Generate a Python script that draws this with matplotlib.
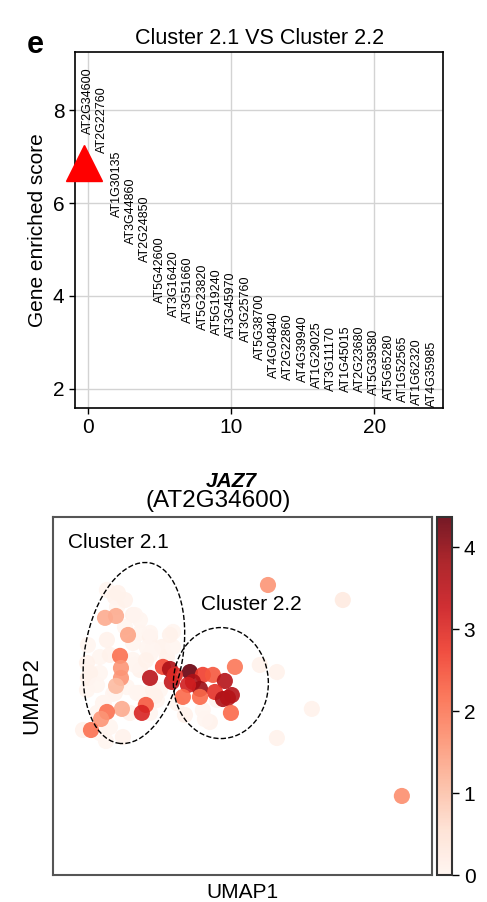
import matplotlib
matplotlib.use("Agg")
import matplotlib.pyplot as plt
import numpy as np
from matplotlib.patches import Ellipse

plt.rcParams['font.family'] = ['Liberation Sans', 'DejaVu Sans']

# ranked genes, cluster 2.1 vs cluster 2.2
genes = ["AT2G34600", "AT2G22760", "AT1G30135", "AT3G44860", "AT2G24850",
         "AT5G42600", "AT3G16420", "AT3G51660", "AT5G23820", "AT5G19240",
         "AT3G45970", "AT3G25760", "AT5G38700", "AT4G04840", "AT2G22860",
         "AT4G39940", "AT1G29025", "AT3G11170", "AT1G45015", "AT2G23680",
         "AT5G39580", "AT5G65280", "AT1G52565", "AT1G62320", "AT4G35985"]
scores = [7.48, 7.09, 5.69, 5.11, 4.74, 3.85, 3.55, 3.42, 3.27, 3.16,
          3.10, 3.01, 2.62, 2.23, 2.19, 2.15, 2.02, 1.95, 1.93, 1.93,
          1.87, 1.76, 1.72, 1.65, 1.61]
highlight_x = -0.25
highlight_y = 6.87

# UMAP cells: expression of JAZ7 (AT2G34600)
pale_x = [2.84, 3.26, 3.37, 4.21, 3.79, 4.58, 5.11, 6.32, 5.74, 4.95, 4.21, 2.84,
          2.47, 1.79, 2.47, 4.21, 4.58, 3.89, 4.58, 5.26, 5.47, 3.26, 2.63, 2.32,
          1.58, 2.47, 5.11, 4.05, 10.89, 11.79, 13.63, 11.79, 7.89, 8.26, 8.63,
          6.53, 6.0, 6.32, 3.0, 1.95, 1.79, 3.0, 5.11, 5.63, 3.79, 1.84, 4.58,
          6.95, 3.42, 4.32, 5.11, 6.16, 5.26, 4.32, 1.84, 2.32, 4.42, 5.37,
          3.16, 2.68, 3.68, 2.79, 8.0, 4.9, 3.6]
pale_y = [15.0, 14.63, 14.1, 13.68, 13.05, 12.74, 12.53, 12.79, 12.0, 11.95, 12.21,
          12.37, 11.47, 11.16, 10.63, 11.32, 10.79, 9.89, 9.58, 9.74, 9.21, 9.58,
          9.05, 8.53, 7.63, 7.47, 8.53, 8.53, 11.05, 10.68, 8.74, 7.21, 8.68, 8.05,
          9.21, 9.05, 11.47, 12.0, 7.79, 10.63, 9.74, 11.58, 11.58, 9.74, 14.47,
          12.1, 13.42, 8.42, 14.84, 13.68, 12.74, 12.63, 11.84, 11.05, 10.37,
          10.0, 9.58, 9.42, 9.53, 9.05, 7.26, 7.05, 8.2, 11.3, 10.2]
pale_val = [0.0, 0.1, 0.0, 0.1, 0.0, 0.0, 0.1, 0.0, 0.1, 0.0, 0.0, 0.1, 0.0, 0.1,
            0.0, 0.0, 0.1, 0.0, 0.0, 0.1, 0.0, 0.1, 0.0, 0.0, 0.1, 0.0, 0.0, 0.1,
            0.1, 0.1, 0.1, 0.1, 0.0, 0.1, 0.0, 0.0, 0.1, 0.0, 0.0, 0.1, 0.0, 0.1,
            0.0, 0.0, 0.1, 0.0, 0.0, 0.1, 0.1, 0.0, 0.0, 0.1, 0.0, 0.0, 0.1, 0.0,
            0.0, 0.1, 0.0, 0.0, 0.1, 0.0, 0.0, 0.1, 0.0]

expr_x = [11.32, 15.26, 2.74, 3.32, 3.95, 3.53, 3.58, 3.58, 3.32, 5.11, 5.79,
          6.16, 6.26, 7.21, 7.89, 8.42, 9.58, 9.05, 7.37, 7.74, 7.11, 8.53, 8.95,
          9.42, 9.21, 6.84, 7.74, 9.37, 6.42, 4.89, 4.68, 3.63, 2.84, 2.53, 2.0,
          18.37]
expr_y = [15.26, 14.47, 13.53, 13.63, 12.63, 11.53, 10.89, 10.37, 9.95, 10.37,
          10.95, 10.84, 10.16, 10.68, 10.53, 10.53, 10.95, 10.21, 10.16, 9.79,
          10.0, 9.63, 9.26, 9.47, 9.32, 9.37, 9.37, 8.53, 10.53, 8.95, 8.53, 8.74,
          8.58, 8.21, 7.63, 4.16]
expr_val = [1.6, 0.3, 1.3, 1.3, 1.4, 2.1, 1.6, 1.6, 1.1, 3.5, 2.6, 3.7, 3.4,
            4.35, 2.7, 2.4, 2.0, 3.6, 3.7, 3.9, 3.2, 2.9, 3.7, 3.6, 3.6, 2.2,
            2.2, 2.2, 3.0, 2.4, 3.1, 1.3, 2.1, 1.6, 2.1, 1.7]

vmax = 4.37

fig = plt.figure(figsize=(4.87, 9.02), dpi=100)

# ---- panel e, top: ranked genes
ax1 = fig.add_axes([0.154, 0.548, 0.756, 0.394])
for i, (g, s) in enumerate(zip(genes, scores)):
    ax1.text(i, s, g, rotation=90, va='bottom', ha='center', fontsize=9)
ax1.plot([highlight_x], [highlight_y], marker='^', color='red', markersize=26,
         linestyle='none', zorder=5, clip_on=False)
ax1.set_xlim(-0.9, 24.8)
ax1.set_ylim(1.59, 9.25)
ax1.set_xticks([0, 10, 20])
ax1.set_yticks([2, 4, 6, 8])
ax1.grid(True, color='#d3d3d3', linewidth=1)
ax1.set_axisbelow(True)
ax1.tick_params(labelsize=15, length=4, width=1)
ax1.set_ylabel("Gene enriched score", fontsize=15)
ax1.set_title("Cluster 2.1 VS Cluster 2.2", fontsize=15.5, pad=6)
for sp in ax1.spines.values():
    sp.set_linewidth(1.2)
fig.text(0.072, 0.95, "e", fontsize=22, fontweight='bold', ha='center', va='center')

# ---- bottom: UMAP
ax2 = fig.add_axes([0.1088, 0.0299, 0.778, 0.397])
ax2.scatter(pale_x, pale_y, c=pale_val, cmap='Reds', vmin=0, vmax=vmax,
            s=135, linewidths=0, alpha=0.9)
sc = ax2.scatter(expr_x, expr_y, c=expr_val, cmap='Reds', vmin=0, vmax=vmax,
                 s=135, linewidths=0, alpha=0.9)
ax2.add_patch(Ellipse((4.26, 11.68), 5.16, 9.63, angle=-10, fill=False,
                      linestyle='--', linewidth=1, color='black'))
ax2.add_patch(Ellipse((8.84, 10.1), 5.0, 5.84, angle=0, fill=False,
                      linestyle='--', linewidth=1, color='black'))
ax2.text(3.42, 17.47, "Cluster 2.1", fontsize=15, ha='center', va='center')
ax2.text(10.42, 14.21, "Cluster 2.2", fontsize=15, ha='center', va='center')
ax2.set_xlim(0, 19.95)
ax2.set_ylim(0, 18.84)
ax2.set_xticks([])
ax2.set_yticks([])
for sp in ax2.spines.values():
    sp.set_linewidth(1.5)
    sp.set_color('#555555')
ax2.set_xlabel("UMAP1", fontsize=15, labelpad=6)
ax2.set_ylabel("UMAP2", fontsize=16, labelpad=8)
fig.text(0.476, 0.466, "JAZ7", fontsize=15, fontweight='bold', fontstyle='italic',
         ha='center', va='center')
fig.text(0.448, 0.445, "(AT2G34600)", fontsize=17.5, ha='center', va='center')

cax = fig.add_axes([0.897, 0.0299, 0.0308, 0.397])
cb = fig.colorbar(sc, cax=cax)
cb.set_ticks([0, 1, 2, 3, 4])
cb.ax.tick_params(labelsize=15, length=5, width=1)
cb.outline.set_linewidth(1.5)
cb.outline.set_edgecolor('#333333')

fig.savefig("out.png", dpi=100)
